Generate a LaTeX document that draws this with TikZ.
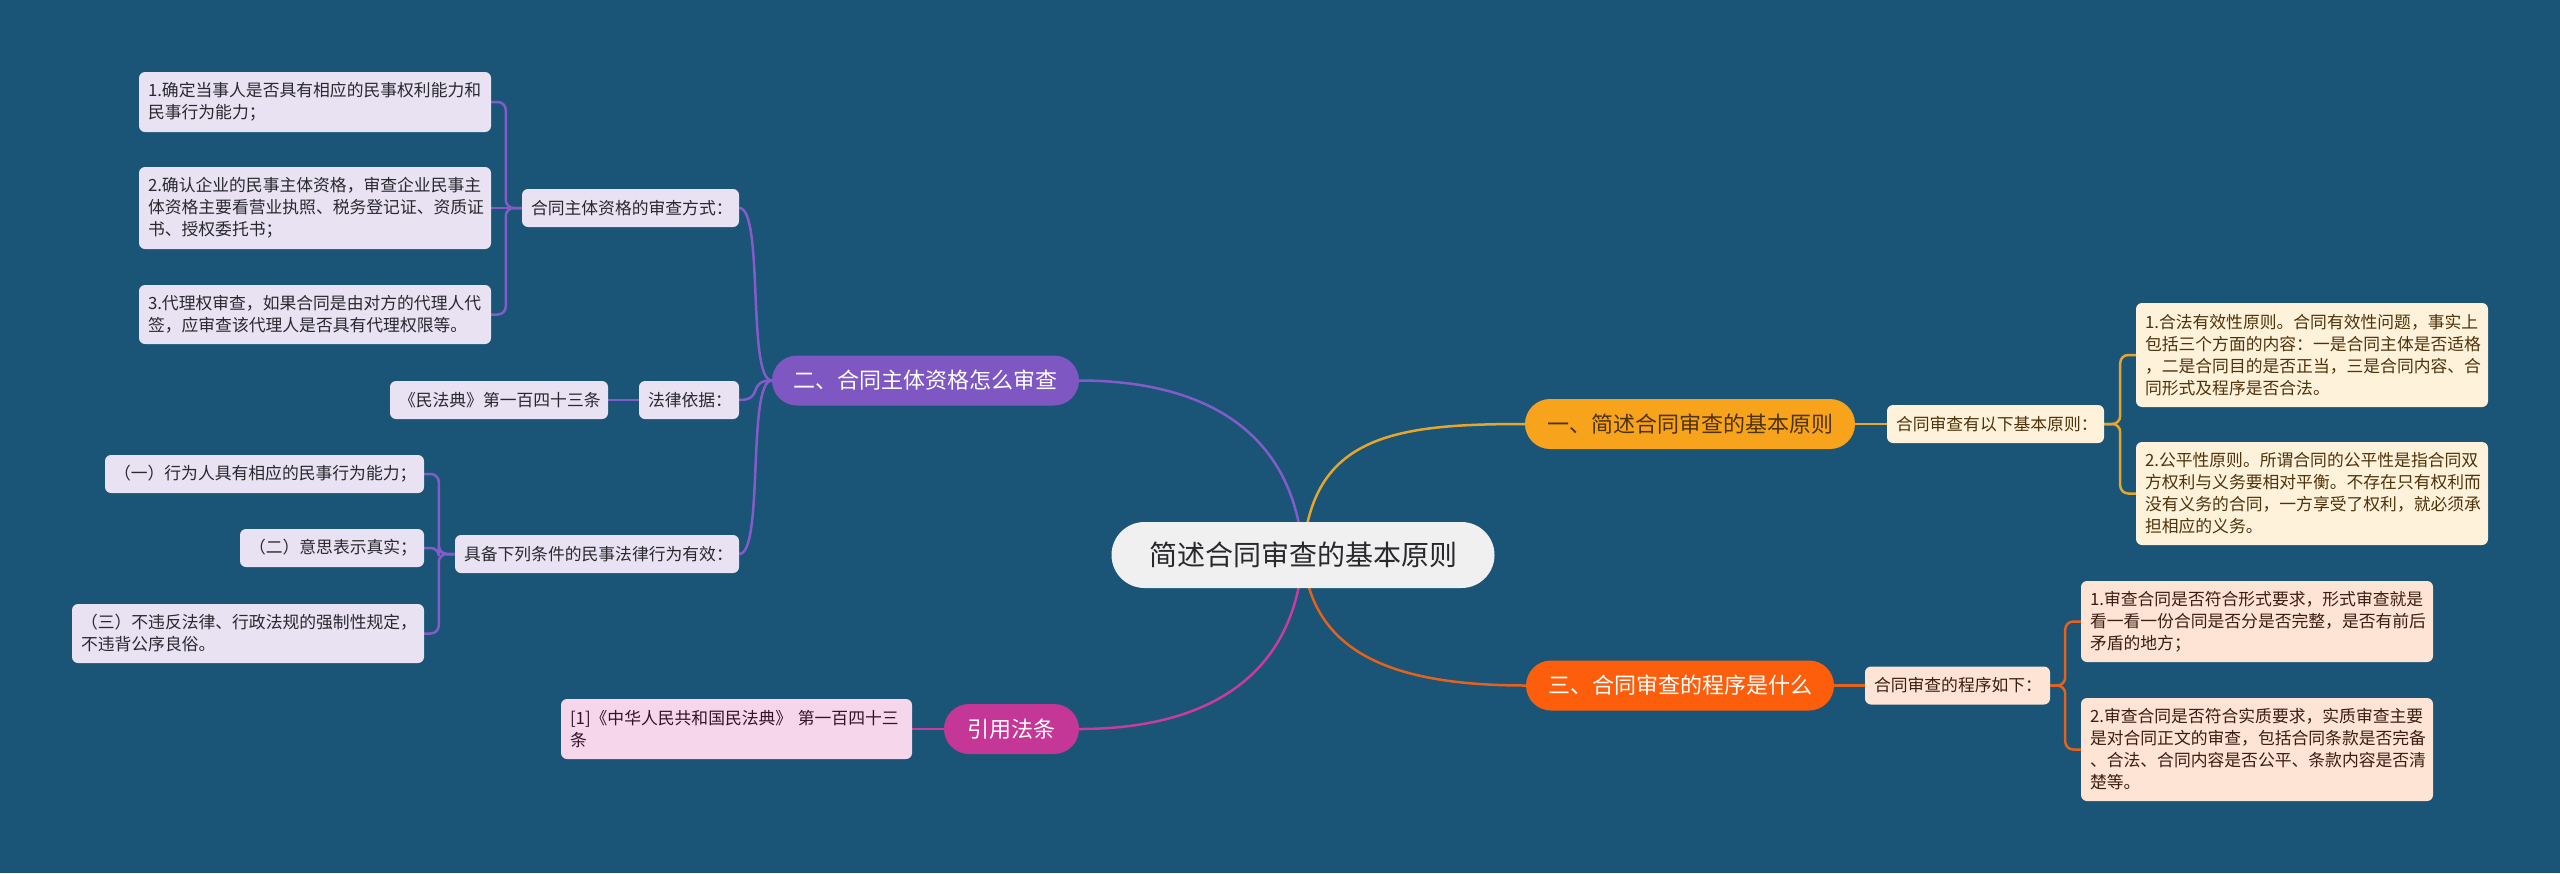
\documentclass[tikz,border=0pt]{standalone}
\usepackage{fontspec}
\setmainfont{Noto Sans CJK SC}
\usetikzlibrary{backgrounds,shapes.misc}
\definecolor{bgc}{RGB}{26,84,118}
\definecolor{pu}{RGB}{126,87,194}
\definecolor{puline}{RGB}{132,92,202}
\definecolor{puleaf}{RGB}{232,226,243}
\definecolor{yo}{RGB}{247,163,28}
\definecolor{yoline}{RGB}{230,166,46}
\definecolor{yoleaf}{RGB}{255,242,219}
\definecolor{yotext}{RGB}{78,50,10}
\definecolor{rd}{RGB}{252,94,12}
\definecolor{rdline}{RGB}{226,98,30}
\definecolor{rdleaf}{RGB}{253,228,212}
\definecolor{rdtext}{RGB}{60,30,15}
\definecolor{mg}{RGB}{196,55,150}
\definecolor{mgline}{RGB}{200,60,155}
\definecolor{mgleaf}{RGB}{245,214,235}
\definecolor{mgtext}{RGB}{50,20,40}
\definecolor{ctr}{RGB}{240,240,240}
\definecolor{dark}{RGB}{40,40,45}
\begin{document}
\begin{tikzpicture}[x=1pt,y=-1pt,
  leaf/.style={rectangle, rounded corners=6pt, inner xsep=9pt, inner ysep=0pt,
    font=\fontsize{16.8}{22}\selectfont, align=left, anchor=center},
  sub/.style={leaf, minimum height=38pt},
  pill/.style={rounded rectangle, inner sep=0pt, minimum height=50pt,
    font=\fontsize{22}{26}\selectfont},
  lk/.style={line width=2.5pt},
  brk/.style={lk, rounded corners=8pt}
]
\useasboundingbox (0,0) rectangle (2560,873);

% centre
\node[rounded rectangle, fill=ctr, text=dark, minimum width=383pt, minimum height=66pt,
  inner sep=0pt, font=\fontsize{28}{32}\selectfont] (C) at (1303,555) {简述合同审查的基本原则};

% branch 1 (orange-yellow)
\node[pill, fill=yo, text=yotext, minimum width=330pt] (M1) at (1690,424) {一、简述合同审查的基本原则};
\node[sub, fill=yoleaf, text=yotext, text width=199pt] (S1) at (1995.5,424) {合同审查有以下基本原则：};
\node[leaf, fill=yoleaf, text=yotext, text width=334pt, minimum height=104pt] (L1a) at (2312,355)
  {1.合法有效性原则。合同有效性问题，事实上\\包括三个方面的内容：一是合同主体是否适格\\，二是合同目的是否正当，三是合同内容、合\\同形式及程序是否合法。};
\node[leaf, fill=yoleaf, text=yotext, text width=334pt, minimum height=103pt] (L1b) at (2312,493.5)
  {2.公平性原则。所谓合同的公平性是指合同双\\方权利与义务要相对平衡。不存在只有权利而\\没有义务的合同，一方享受了权利，就必须承\\担相应的义务。};

% branch 3 (orange-red)
\node[pill, fill=rd, text=white, minimum width=308pt] (M3) at (1680,685.5) {三、合同审查的程序是什么};
\node[sub, fill=rdleaf, text=rdtext, text width=167pt] (S3) at (1957.5,685.5) {合同审查的程序如下：};
\node[leaf, fill=rdleaf, text=rdtext, text width=334pt, minimum height=81pt] (L3a) at (2257,621.5)
  {1.审查合同是否符合形式要求，形式审查就是\\看一看一份合同是否分是否完整，是否有前后\\矛盾的地方；};
\node[leaf, fill=rdleaf, text=rdtext, text width=334pt, minimum height=103pt] (L3b) at (2257,749.5)
  {2.审查合同是否符合实质要求，实质审查主要\\是对合同正文的审查，包括合同条款是否完备\\、合法、合同内容是否公平、条款内容是否清\\楚等。};

% branch 2 (purple)
\node[pill, fill=pu, text=white, minimum width=307pt] (M2) at (925.5,380.5) {二、合同主体资格怎么审查};
\node[sub, fill=puleaf, text=dark, text width=199pt] (S2a) at (630.5,208) {合同主体资格的审查方式：};
\node[sub, fill=puleaf, text=dark, text width=82pt] (S2b) at (689,400) {法律依据：};
\node[sub, fill=puleaf, text=dark, text width=266pt] (S2c) at (597,554) {具备下列条件的民事法律行为有效：};
\node[leaf, fill=puleaf, text=dark, text width=334pt, minimum height=60pt] (L2a1) at (315,102)
  {1.确定当事人是否具有相应的民事权利能力和\\民事行为能力；};
\node[leaf, fill=puleaf, text=dark, text width=334pt, minimum height=82pt] (L2a2) at (315,208)
  {2.确认企业的民事主体资格，审查企业民事主\\体资格主要看营业执照、税务登记证、资质证\\书、授权委托书；};
\node[leaf, fill=puleaf, text=dark, text width=334pt, minimum height=59pt] (L2a3) at (315,314.5)
  {3.代理权审查，如果合同是由对方的代理人代\\签，应审查该代理人是否具有代理权限等。};
\node[sub, fill=puleaf, text=dark, text width=200pt] (L2b) at (499,400) {《民法典》第一百四十三条};
\node[sub, fill=puleaf, text=dark, text width=301pt] (L2c1) at (264.5,474) {（一）行为人具有相应的民事行为能力；};
\node[sub, fill=puleaf, text=dark, text width=166pt] (L2c2) at (332,548) {（二）意思表示真实；};
\node[leaf, fill=puleaf, text=dark, text width=334pt, minimum height=59pt] (L2c3) at (248,633.5)
  {（三）不违反法律、行政法规的强制性规定，\\不违背公序良俗。};

% branch 4 (magenta)
\node[pill, fill=mg, text=white, minimum width=135pt] (M4) at (1011.5,729) {引用法条};
\node[leaf, fill=mgleaf, text=mgtext, text width=333pt, minimum height=60pt] (L4) at (736.5,729)
  {[1]《中华人民共和国民法典》 第一百四十三\\条};

\begin{pgfonlayer}{background}
\fill[bgc] (0,0) rectangle (2560,873);
% centre to main branches
\draw[lk, puline] (C.center) .. controls +(-8,-120) and +(130,0) .. (M2.east);
\draw[lk, yoline] (C.center) .. controls +(8,-120) and +(-130,0) .. (M1.west);
\draw[lk, mgline] (C.center) .. controls +(-8,120) and +(130,0) .. (M4.east);
\draw[lk, rdline] (C.center) .. controls +(8,100) and +(-130,0) .. (M3.west);
% branch 1
\draw[lk, yoline] (M1.east) -- (S1.west);
\draw[brk, yoline] (S1.east) -- ++(16,0) |- (L1a.west);
\draw[brk, yoline] (S1.east) -- ++(16,0) |- (L1b.west);
% branch 3
\draw[lk, rdline] (M3.east) -- (S3.west);
\draw[brk, rdline] (S3.east) -- ++(15,0) |- (L3a.west);
\draw[brk, rdline] (S3.east) -- ++(15,0) |- (L3b.west);
% branch 2
\draw[lk, puline] (M2.west) .. controls +(-25,0) and +(25,0) .. (S2a.east);
\draw[lk, puline] (M2.west) .. controls +(-25,0) and +(25,0) .. (S2b.east);
\draw[lk, puline] (M2.west) .. controls +(-25,0) and +(25,0) .. (S2c.east);
\draw[brk, puline] (S2a.west) -- ++(-16,0) |- (L2a1.east);
\draw[lk, puline] (S2a.west) -- (L2a2.east);
\draw[brk, puline] (S2a.west) -- ++(-16,0) |- (L2a3.east);
\draw[lk, puline] (S2b.west) -- (L2b.east);
\draw[brk, puline] (S2c.west) -- ++(-16,0) |- (L2c1.east);
\draw[brk, puline] (S2c.west) -- ++(-16,0) |- (L2c2.east);
\draw[brk, puline] (S2c.west) -- ++(-16,0) |- (L2c3.east);
% branch 4
\draw[lk, mgline] (M4.west) -- (L4.east);
\end{pgfonlayer}
\end{tikzpicture}
\end{document}
